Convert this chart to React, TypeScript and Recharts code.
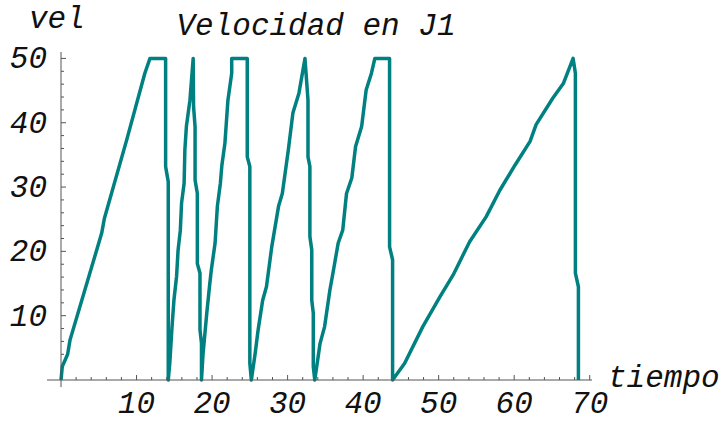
import React from 'react';
import { LineChart, Line, XAxis, YAxis, ReferenceLine } from 'recharts';

// tiempo / vel, in drawing order (the curve goes back on itself)
const tiempo = [
  0, 0.17, 0.88, 1.19, 5.38, 5.74, 8.69, 11.1, 11.78, 13.85, 13.85, 14.2, 14.2,
  14.4, 14.7, 14.95, 15.3, 15.5, 15.8, 15.96, 16.3, 16.4, 16.6, 17.07, 17.5, 17.55, 17.75, 17.75, 18.05, 18.05, 18.4, 18.4, 18.6, 18.6,
  18.8, 19.3, 19.7, 19.9, 20.4, 20.7, 21.1, 21.3, 21.7, 22.1, 22.6, 22.6, 24.66, 24.66, 25.0, 25.0, 25.2,
  25.7, 26.1, 26.7, 27.2, 27.9, 28.8, 29.3, 30.1, 30.7, 31.5, 32.3, 32.7, 32.7, 32.95, 32.95, 33.2, 33.2, 33.4, 33.4, 33.6,
  34.3, 34.9, 35.6, 36.0, 36.7, 37.3, 37.8, 38.5, 39.0, 39.8, 40.4, 41.1, 41.55, 43.5, 43.5, 43.9, 43.9,
  45.5, 47.9, 50.2, 51.9, 53.0, 54.1, 56.3, 58.1, 60.1, 62.1, 62.9, 65.1, 66.5, 67.8, 68.1, 68.1, 68.5, 68.5,
];
const vel = [
  0, 2.1, 4.0, 6.2, 22.8, 25.1, 37.3, 47.7, 50, 50, 33.2, 30.8, 0,
  2.6, 8.3, 12.4, 16.1, 20.2, 23.3, 27.5, 30.6, 35.8, 39.4, 43.5, 50, 42.5, 39.4, 31.1, 29.0, 18.1, 16.6, 7.8, 5.7, 0,
  4.0, 10.4, 15.0, 17.1, 21.3, 27.0, 30.6, 33.4, 36.8, 43.5, 47.7, 50, 50, 34.7, 33.2, 2.6, 0,
  4.1, 7.8, 12.4, 14.5, 20.7, 27.0, 29.0, 35.8, 41.5, 44.6, 50, 43.5, 34.7, 33.2, 22.3, 20.2, 12.4, 10.4, 2.1, 0,
  5.7, 8.3, 14.0, 16.6, 21.3, 23.3, 29.0, 31.4, 36.3, 39.4, 45.1, 47.7, 50, 50, 20.7, 18.7, 0,
  2.6, 8.3, 13.0, 16.3, 18.9, 21.5, 25.4, 29.5, 33.4, 37.1, 39.7, 43.8, 46.1, 50, 47.7, 16.6, 14.5, 0,
];

const xTicks = [2, 4, 6, 8, 10, 12, 14, 16, 18, 20, 22, 24, 26, 28, 30, 32, 34, 36, 38, 40, 42, 44, 46, 48, 50, 52, 54, 56, 58, 60, 62, 64, 66, 68, 70];
const yTicks = [2, 4, 6, 8, 10, 12, 14, 16, 18, 20, 22, 24, 26, 28, 30, 32, 34, 36, 38, 40, 42, 44, 46, 48, 50];
const majorTicks = [10, 20, 30, 40, 50, 60, 70];

const data = tiempo.map((t, i) => ({ tiempo: t, vel: vel[i] }));

const font = "'Liberation Mono', 'Courier New', monospace";
const axisColor = '#555';
const textStyle = { fontFamily: font, fontStyle: 'italic', fontSize: 31, fill: '#111' } as const;

// ticks point inwards like Mathematica's, labels only on the majors
const XTick = ({ x, y, payload }: any) => {
  const major = majorTicks.includes(payload.value);
  return (
    <g>
      <line x1={x} x2={x} y1={y} y2={y - (major ? 5 : 3)} stroke={axisColor} strokeWidth={1} />
      {major && (
        <text x={x} y={y + 33} textAnchor="middle" style={textStyle}>
          {payload.value}
        </text>
      )}
    </g>
  );
};

const YTick = ({ x, y, payload }: any) => {
  const major = majorTicks.includes(payload.value);
  return (
    <g>
      <line x1={x} x2={x + (major ? 5 : 3)} y1={y} y2={y} stroke={axisColor} strokeWidth={1} />
      {major && (
        <text x={x - 14} y={y + 10} textAnchor="end" style={textStyle}>
          {payload.value}
        </text>
      )}
    </g>
  );
};

export default function App() {
  return (
    <div style={{ position: 'absolute', left: 0, top: 0, width: 721, height: 421, background: '#fff' }}>
      <LineChart
        width={721}
        height={421}
        data={data}
        margin={{ top: 52, right: 129, bottom: 40, left: 60 }}
      >
        <XAxis
          dataKey="tiempo"
          type="number"
          domain={[0, 70.3]}
          ticks={xTicks}
          interval={0}
          height={1}
          tickSize={0}
          tickMargin={0}
          tickLine={false}
          tick={<XTick />}
          axisLine={{ stroke: axisColor }}
        />
        <YAxis
          type="number"
          domain={[0, 51]}
          ticks={yTicks}
          interval={0}
          width={1}
          tickSize={0}
          tickMargin={0}
          tickLine={false}
          tick={<YTick />}
          axisLine={{ stroke: axisColor }}
        />
        <ReferenceLine segment={[{ x: -1.85, y: 0 }, { x: 0, y: 0 }]} stroke={axisColor} ifOverflow="visible" />
        <ReferenceLine segment={[{ x: 0, y: -1.1 }, { x: 0, y: 0 }]} stroke={axisColor} ifOverflow="visible" />
        <Line
          type="linear"
          dataKey="vel"
          stroke="#008080"
          strokeWidth={3.5}
          strokeLinejoin="round"
          dot={false}
          isAnimationActive={false}
        />
        <text x={316} y={35} textAnchor="middle" style={textStyle}>Velocidad en J1</text>
        <text x={29} y={28} style={textStyle}>vel</text>
        <text x={608} y={387} style={textStyle}>tiempo</text>
      </LineChart>
    </div>
  );
}
